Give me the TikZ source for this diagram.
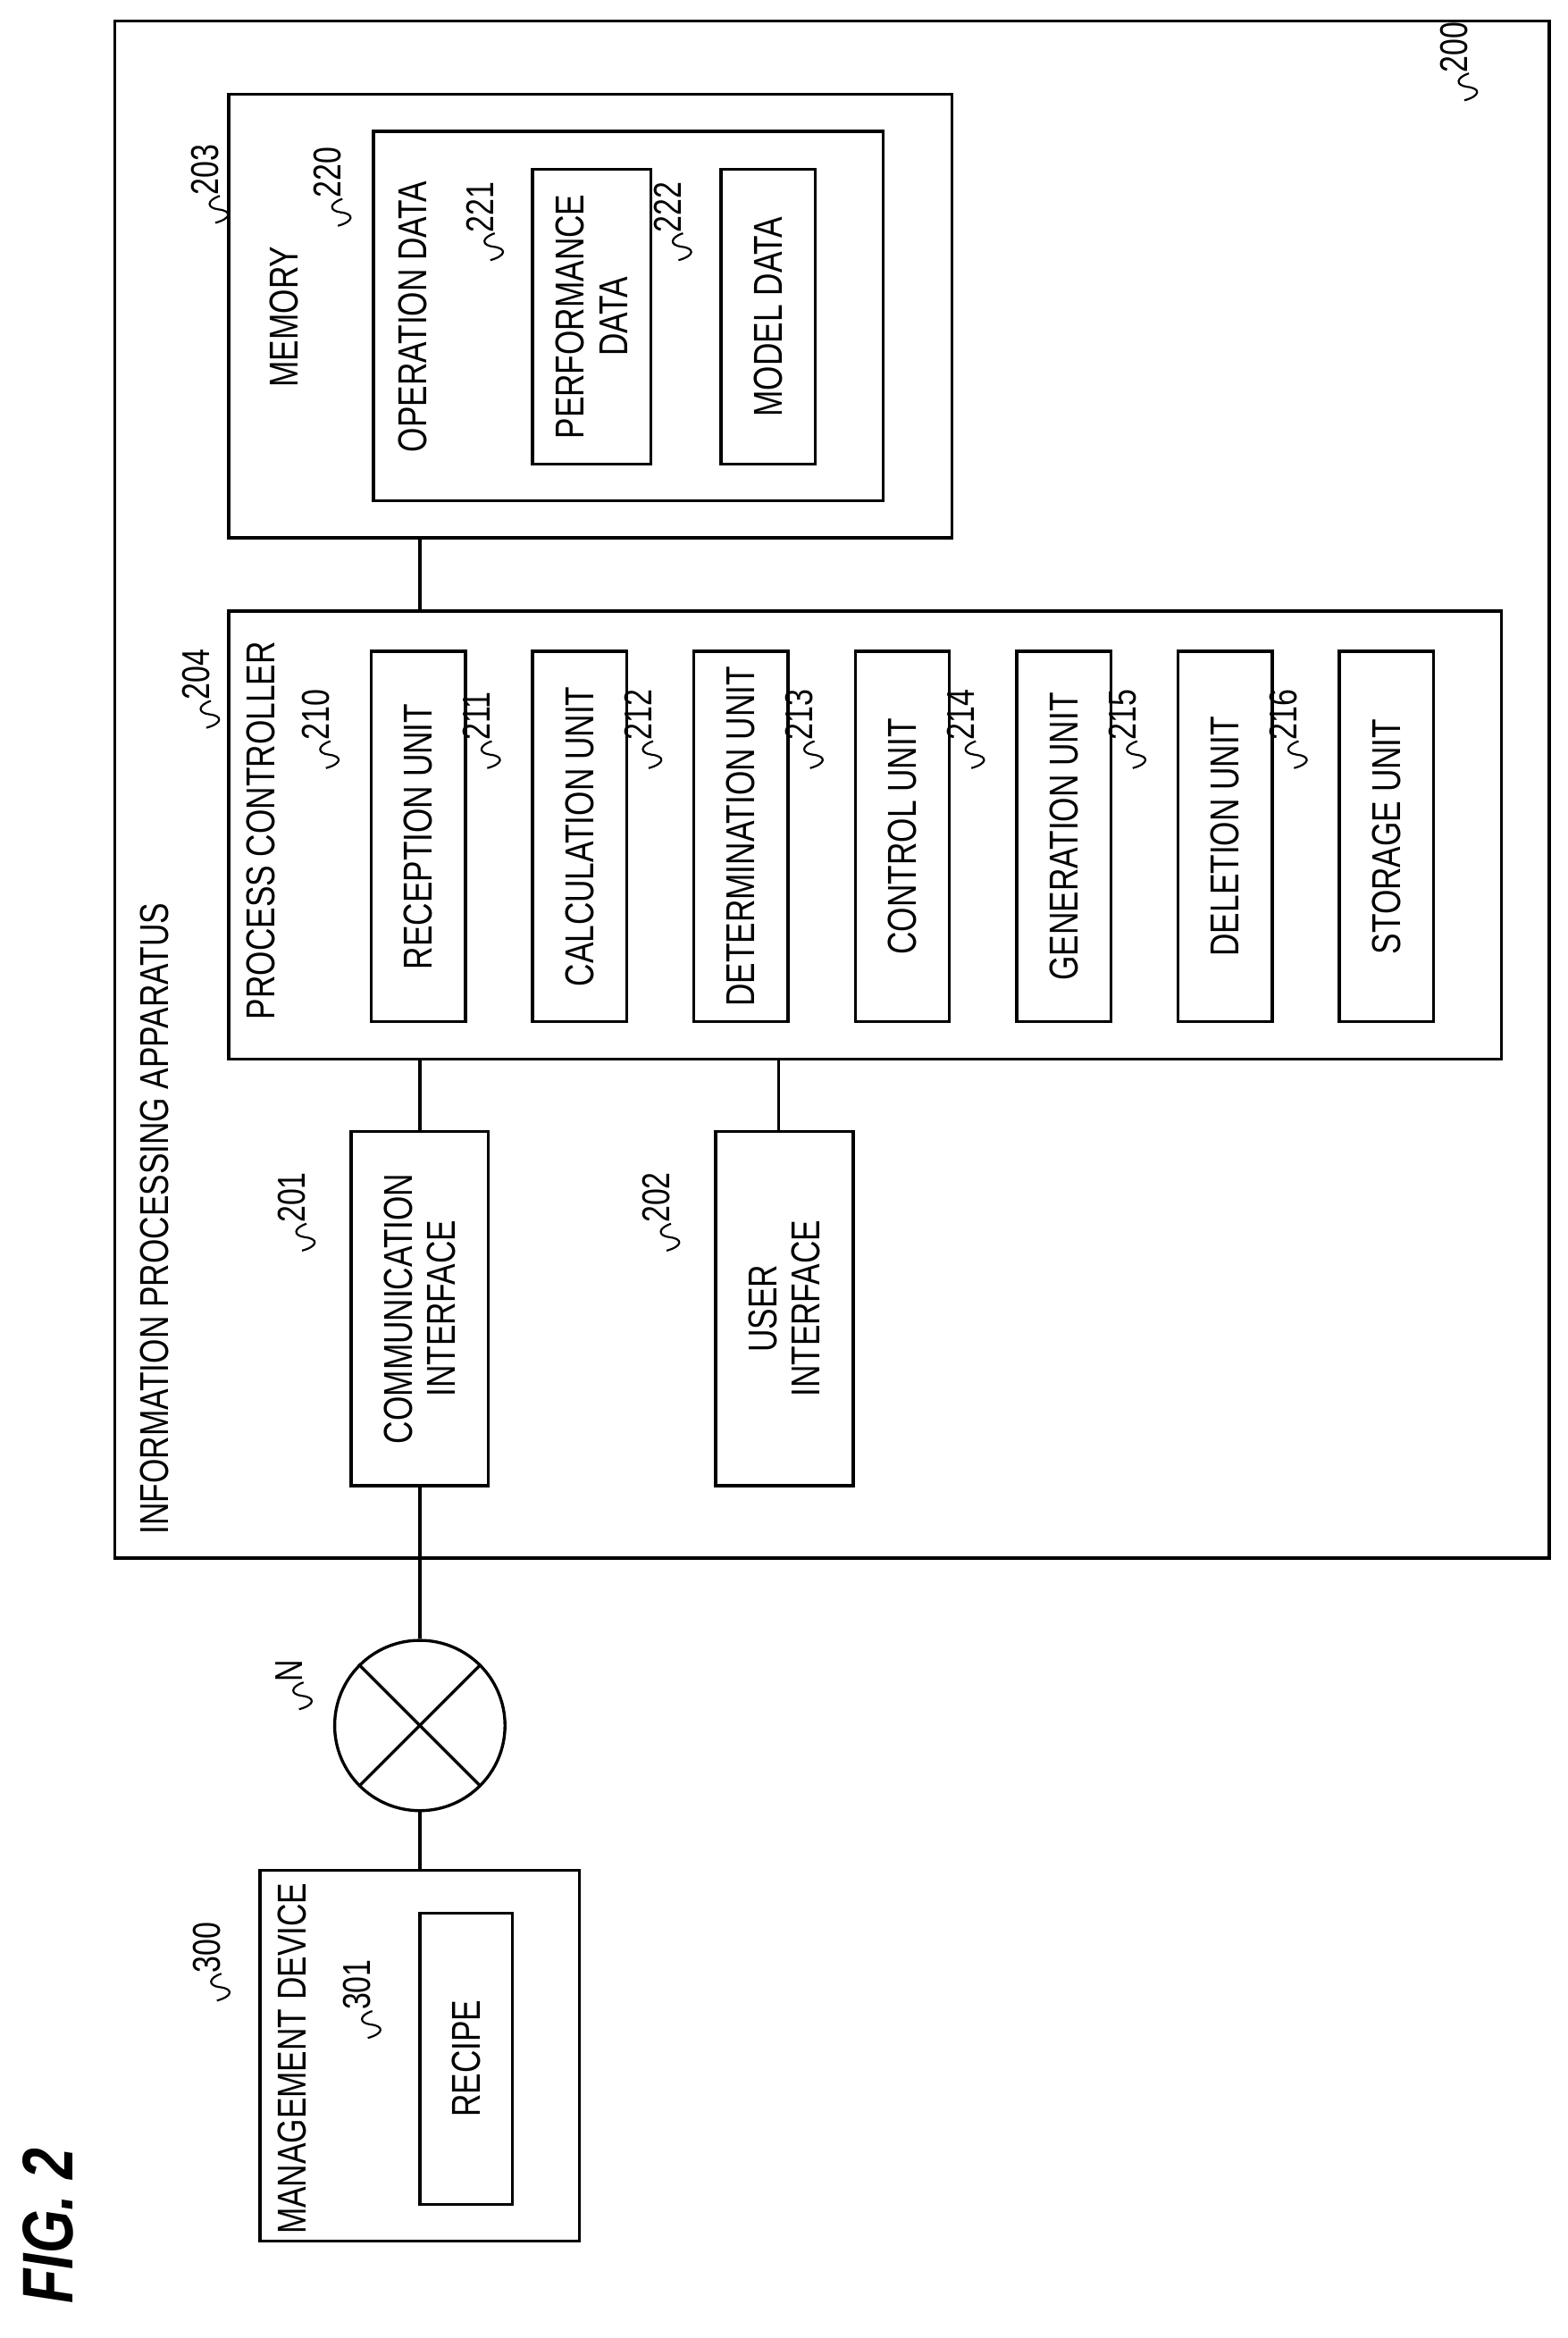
\documentclass[tikz,border=0pt]{standalone}
\usepackage{fontspec}
\setmainfont[FakeStretch=0.78]{Liberation Sans}
\usetikzlibrary{positioning}
% wavy lead-in for reference numerals
\newcommand\squig{\tikz[baseline=0pt,line width=1.3pt]\draw (0,2pt) .. controls (3pt,-9pt) and (8pt,-9pt) .. (9pt,0) .. controls (10pt,8pt) and (15pt,8pt) .. (18pt,-1pt);}
\begin{document}
\begin{tikzpicture}[x=1pt,y=-1pt,line width=2pt,
    box/.style={draw},
    vtext/.style={rotate=90,font=\fontsize{27}{29}\selectfont,align=center,inner sep=0pt},
    ref/.style={rotate=90,font=\fontsize{26}{28}\selectfont,inner sep=0pt,anchor=south west}]
    \useasboundingbox (0,0) rectangle (1049,1565);

    % information processing apparatus
    \draw[box] (77,14) rectangle (1037,1043);
    \node[ref] (r200) at (992,68) {\squig200};
    \node[vtext,anchor=north west] (tApp) at (93,1028) {INFORMATION PROCESSING APPARATUS};

    % memory
    \draw[box] (153,63) rectangle (637,360);
    \node[vtext] (tMem) at (190,212) {MEMORY};
    \node[ref] (r203) at (156,150) {\squig203};
    \draw[box] (250,88) rectangle (591,335);
    \node[vtext] (tOp) at (276,212) {OPERATION DATA};
    \node[ref] (r220) at (238,152) {\squig220};
    \node[box,vtext,minimum width=197pt,minimum height=79pt] (perf) at (396,212) {PERFORMANCE\\DATA};
    \node[ref] (r221) at (340,175) {\squig221};
    \node[box,vtext,minimum width=197pt,minimum height=63pt] (model) at (514,212) {MODEL DATA};
    \node[ref] (r222) at (466,175) {\squig222};
    \coordinate (memS) at (281,360);

    % process controller
    \draw[box] (153,409) rectangle (1005,709);
    \coordinate (pcN) at (281,409);
    \coordinate (pcS) at (281,709);
    \coordinate (pcS2) at (521,709);
    \node[vtext,anchor=north] (tPc) at (164,556) {PROCESS CONTROLLER};
    \node[ref] (r204) at (150,488) {\squig204};
    \foreach \xx/\num/\txt in {280/210/RECEPTION UNIT,388/211/CALCULATION UNIT,496/212/DETERMINATION UNIT,
                                604/213/CONTROL UNIT,712/214/GENERATION UNIT,820/215/DELETION UNIT,928/216/STORAGE UNIT}{
        \node[box,vtext,minimum width=248pt,minimum height=63pt] (u\num) at (\xx,560) {\txt};
        \node[ref] (r\num) at (\xx-50,515) {\squig\num};
    }
    \draw (memS) -- (pcN);

    % interfaces
    \node[box,vtext,minimum width=237pt,minimum height=92pt] (comm) at (281,876) {COMMUNICATION\\INTERFACE};
    \node[ref] (r201) at (214,838) {\squig201};
    \node[box,vtext,minimum width=237pt,minimum height=92pt] (user) at (525,876) {USER\\INTERFACE};
    \node[ref] (r202) at (458,838) {\squig202};
    \draw (pcS) -- (comm.east);
    \draw (pcS2) -- (pcS2 |- user.east);

    % network
    \node[draw,circle,minimum size=114pt,inner sep=0pt] (net) at (281,1155) {};
    \draw (net.north west) -- (net.south east) (net.north east) -- (net.south west);
    \node[ref] (rN) at (212,1145) {\squig N};
    \draw (comm.west) -- (net);

    % management device
    \draw[box] (174,1252) rectangle (388,1500);
    \coordinate (mgN) at (281,1252);
    \node[vtext,anchor=north] (tMg) at (185,1378) {MANAGEMENT DEVICE};
    \node[ref] (r300) at (157,1340) {\squig300};
    \node[box,vtext,minimum width=195pt,minimum height=62pt] (recipe) at (312,1378) {RECIPE};
    \node[ref] (r301) at (258,1365) {\squig301};
    \draw (net) -- (mgN);

    \node[rotate=90,font=\fontsize{48}{48}\bfseries\itshape\selectfont,inner sep=0pt] (fig) at (32,1490) {FIG. 2};
\end{tikzpicture}
\end{document}
